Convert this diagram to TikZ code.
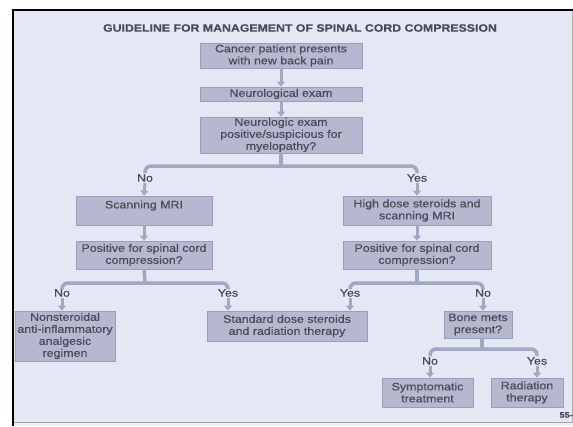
\documentclass[tikz,border=0pt]{standalone}
\usepackage{fontspec}
\setmainfont{Liberation Sans}[FakeStretch=1.15,FakeBold=0.5]
\usetikzlibrary{arrows.meta}
\definecolor{pageBack}{HTML}{E4E7F4}
\definecolor{boxFill}{HTML}{B5B8CF}
\definecolor{boxLine}{HTML}{9B9EB8}
\definecolor{linkGray}{HTML}{A3A7C1}
\definecolor{textGray}{HTML}{4A4A58}

\begin{document}
\begin{tikzpicture}
[x=1pt,y=-1pt,
  boxDecorate/.style={draw=boxLine,fill=boxFill,line width=0.8pt,inner sep=1pt,align=center,text=textGray,font=\fontsize{10.8}{12}\selectfont},%
  labelDecorate/.style={inner sep=1pt,text=textGray,font=\fontsize{10.8}{12}\selectfont},%
  linkDecorate/.style={draw=linkGray,line width=3.5pt,rounded corners=6pt},%
  arrowDecorate/.style={draw=linkGray,line width=3pt,-{Triangle[width=8pt,length=5pt]}}]
%% page
\useasboundingbox (0,0) rectangle (573,426);
\fill[white] (0,0) rectangle (573,426);
\fill[pageBack] (13,10) rectangle (573,422);
\fill[gray!12] (13,422) rectangle (573,426);
\draw[gray!70,line width=1pt] (13,422) -- (573,422);
\draw[gray!60,line width=1pt] (572,10) -- (572,422);
\draw[black,line width=2.5pt] (13,426) -- (13,10) -- (573,10);
\node[text=textGray,font=\fontsize{10.7}{12}\selectfont\bfseries] (title) at (300,28)
  {GUIDELINE FOR MANAGEMENT OF SPINAL CORD COMPRESSION};
\node[text=textGray,font=\fontsize{8}{9}\selectfont\bfseries,anchor=east,inner sep=0pt] (page) at (573,415) {55-};
%% boxes
\node[boxDecorate,minimum width=162pt,minimum height=25pt] (cancer) at (281,55.5) {Cancer patient presents\\with new back pain};
\node[boxDecorate,minimum width=162pt,minimum height=14pt] (neuro) at (281,94) {Neurological exam};
\node[boxDecorate,minimum width=162pt,minimum height=36pt] (myelo) at (281,135) {Neurologic exam\\positive/suspicious for\\myelopathy?};
\node[boxDecorate,minimum width=136pt,minimum height=29pt] (mri) at (144,210.5) {Scanning MRI\\\mbox{}};
\node[boxDecorate,minimum width=148pt,minimum height=29pt] (steroid) at (417,210.5) {High dose steroids and\\scanning MRI};
\node[boxDecorate,minimum width=136pt,minimum height=28pt] (posleft) at (144,255) {Positive for spinal cord\\compression?};
\node[boxDecorate,minimum width=148pt,minimum height=28pt] (posright) at (417,255) {Positive for spinal cord\\compression?};
\node[boxDecorate,minimum width=100pt,minimum height=50pt] (nsaid) at (65,336) {Nonsteroidal\\anti-inflammatory\\analgesic\\regimen};
\node[boxDecorate,minimum width=160pt,minimum height=30pt] (standard) at (287,326) {Standard dose steroids\\and radiation therapy};
\node[boxDecorate,minimum width=68pt,minimum height=27pt] (bone) at (478,324.5) {Bone mets\\present?};
\node[boxDecorate,minimum width=91pt,minimum height=29pt] (sympt) at (427.5,392.5) {Symptomatic\\treatment};
\node[boxDecorate,minimum width=72pt,minimum height=29pt] (radio) at (527,392.5) {Radiation\\therapy};
%% answers
\foreach \nodename/\x/\y/\answer in {noA/145/178/No, yesA/417/178/Yes, noB/62/293/No, yesB/228/293/Yes,
  yesC/350/293/Yes, noC/483/293/No, noD/430/361/No, yesD/537/361/Yes}
{
  \node[labelDecorate] (\nodename) at (\x,\y) {\answer};
}
\coordinate (splitA) at (281,166);
\coordinate (splitB) at (145,283);
\coordinate (splitC) at (417,283);
\coordinate (splitD) at (482,349);
%% links
\draw[linkDecorate] (myelo.south) -- (splitA);
\draw[linkDecorate] (noA.north) |- (splitA) -| (yesA.north);
\draw[linkDecorate] (posleft.south) -- (splitB);
\draw[linkDecorate] (noB.north) |- (splitB) -| (yesB.north);
\draw[linkDecorate] (posright.south) -- (splitC);
\draw[linkDecorate] (yesC.north) |- (splitC) -| (noC.north);
\draw[linkDecorate] (bone.south -| splitD) -- (splitD);
\draw[linkDecorate] (noD.north) |- (splitD) -| (yesD.north);
%% arrows
\draw[arrowDecorate] (cancer) -- (neuro);
\draw[arrowDecorate] (neuro) -- (myelo);
\draw[arrowDecorate] (noA.south) -- (mri.north);
\draw[arrowDecorate] (yesA.south) -- (steroid.north);
\draw[arrowDecorate] (mri) -- (posleft);
\draw[arrowDecorate] (steroid) -- (posright);
\draw[arrowDecorate] (noB.south) -- (noB.south |- nsaid.north);
\draw[arrowDecorate] (yesB.south) -- (yesB.south |- standard.north);
\draw[arrowDecorate] (yesC.south) -- (yesC.south |- standard.north);
\draw[arrowDecorate] (noC.south) -- (noC.south |- bone.north);
\draw[arrowDecorate] (noD.south) -- (noD.south |- sympt.north);
\draw[arrowDecorate] (yesD.south) -- (yesD.south |- radio.north);
\end{tikzpicture}
\end{document}
